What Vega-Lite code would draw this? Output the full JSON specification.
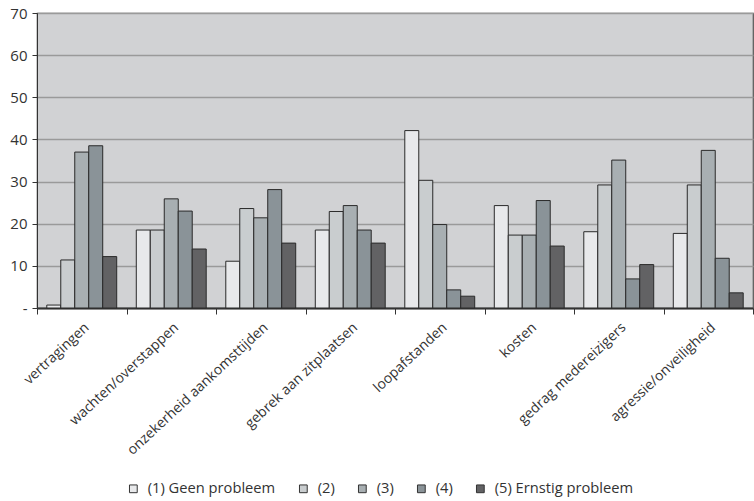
{
  "$schema": "https://vega.github.io/schema/vega-lite/v6.json",
  "width": 716,
  "height": 295,
  "autosize": {"type": "none"},
  "padding": {"left": 37, "top": 13, "right": 1, "bottom": 193},
  "background": "white",
  "config": {
    "view": {"fill": "#d1d2d4", "stroke": "#555555", "strokeWidth": 1.2},
    "font": "Open Sans"
  },
  "data": {
    "values": [
      {"item": "vertragingen", "cat": "(1) Geen probleem", "value": 0.7},
      {"item": "vertragingen", "cat": "(2)", "value": 11.4},
      {"item": "vertragingen", "cat": "(3)", "value": 37.0},
      {"item": "vertragingen", "cat": "(4)", "value": 38.5},
      {"item": "vertragingen", "cat": "(5) Ernstig probleem", "value": 12.2},
      {"item": "wachten/overstappen", "cat": "(1) Geen probleem", "value": 18.5},
      {"item": "wachten/overstappen", "cat": "(2)", "value": 18.5},
      {"item": "wachten/overstappen", "cat": "(3)", "value": 25.9},
      {"item": "wachten/overstappen", "cat": "(4)", "value": 23.0},
      {"item": "wachten/overstappen", "cat": "(5) Ernstig probleem", "value": 14.0},
      {"item": "onzekerheid aankomsttijden", "cat": "(1) Geen probleem", "value": 11.1},
      {"item": "onzekerheid aankomsttijden", "cat": "(2)", "value": 23.6},
      {"item": "onzekerheid aankomsttijden", "cat": "(3)", "value": 21.4},
      {"item": "onzekerheid aankomsttijden", "cat": "(4)", "value": 28.1},
      {"item": "onzekerheid aankomsttijden", "cat": "(5) Ernstig probleem", "value": 15.4},
      {"item": "gebrek aan zitplaatsen", "cat": "(1) Geen probleem", "value": 18.5},
      {"item": "gebrek aan zitplaatsen", "cat": "(2)", "value": 22.9},
      {"item": "gebrek aan zitplaatsen", "cat": "(3)", "value": 24.3},
      {"item": "gebrek aan zitplaatsen", "cat": "(4)", "value": 18.5},
      {"item": "gebrek aan zitplaatsen", "cat": "(5) Ernstig probleem", "value": 15.4},
      {"item": "loopafstanden", "cat": "(1) Geen probleem", "value": 42.1},
      {"item": "loopafstanden", "cat": "(2)", "value": 30.3},
      {"item": "loopafstanden", "cat": "(3)", "value": 19.8},
      {"item": "loopafstanden", "cat": "(4)", "value": 4.3},
      {"item": "loopafstanden", "cat": "(5) Ernstig probleem", "value": 2.8},
      {"item": "kosten", "cat": "(1) Geen probleem", "value": 24.3},
      {"item": "kosten", "cat": "(2)", "value": 17.3},
      {"item": "kosten", "cat": "(3)", "value": 17.3},
      {"item": "kosten", "cat": "(4)", "value": 25.5},
      {"item": "kosten", "cat": "(5) Ernstig probleem", "value": 14.7},
      {"item": "gedrag medereizigers", "cat": "(1) Geen probleem", "value": 18.1},
      {"item": "gedrag medereizigers", "cat": "(2)", "value": 29.2},
      {"item": "gedrag medereizigers", "cat": "(3)", "value": 35.1},
      {"item": "gedrag medereizigers", "cat": "(4)", "value": 6.9},
      {"item": "gedrag medereizigers", "cat": "(5) Ernstig probleem", "value": 10.3},
      {"item": "agressie/onveiligheid", "cat": "(1) Geen probleem", "value": 17.7},
      {"item": "agressie/onveiligheid", "cat": "(2)", "value": 29.2},
      {"item": "agressie/onveiligheid", "cat": "(3)", "value": 37.4},
      {"item": "agressie/onveiligheid", "cat": "(4)", "value": 11.8},
      {"item": "agressie/onveiligheid", "cat": "(5) Ernstig probleem", "value": 3.6}
    ]
  },
  "mark": {"type": "bar", "stroke": "#2a2a2a", "strokeWidth": 1},
  "encoding": {
    "x": {
      "field": "item",
      "type": "nominal",
      "sort": ["vertragingen", "wachten/overstappen", "onzekerheid aankomsttijden", "gebrek aan zitplaatsen", "loopafstanden", "kosten", "gedrag medereizigers", "agressie/onveiligheid"],
      "scale": {"paddingInner": 0, "paddingOuter": 0},
      "axis": {
        "title": null,
        "labelAngle": -43,
        "labelFontSize": 14,
        "labelColor": "#333333",
        "labelLimit": 0,
        "tickBand": "extent",
        "tickSize": 6,
        "tickColor": "#333333",
        "domainColor": "#333333",
        "domainWidth": 2,
        "labelPadding": 6
      }
    },
    "xOffset": {
      "field": "cat",
      "type": "nominal",
      "sort": ["(1) Geen probleem", "(2)", "(3)", "(4)", "(5) Ernstig probleem"],
      "scale": {"paddingInner": 0, "paddingOuter": 0.7}
    },
    "y": {
      "field": "value",
      "type": "quantitative",
      "scale": {"domain": [0, 70]},
      "axis": {
        "title": null,
        "values": [0, 10, 20, 30, 40, 50, 60, 70],
        "labelExpr": "datum.value == 0 ? '-' : datum.label",
        "grid": true,
        "gridColor": "#9a9a9a",
        "gridWidth": 1.5,
        "domainColor": "#333333",
        "labelFontSize": 15,
        "labelColor": "#333333",
        "labelPadding": 5,
        "tickColor": "#333333",
        "tickSize": 5
      }
    },
    "color": {
      "field": "cat",
      "type": "nominal",
      "sort": ["(1) Geen probleem", "(2)", "(3)", "(4)", "(5) Ernstig probleem"],
      "scale": {"range": ["#e8e9eb", "#c9cdcf", "#a8afb2", "#8a9398", "#626264"]},
      "legend": {
        "orient": "none",
        "legendX": 89,
        "legendY": 468,
        "direction": "horizontal",
        "title": null,
        "symbolType": "square",
        "symbolStrokeColor": "#333333",
        "symbolStrokeWidth": 1,
        "symbolSize": 60,
        "labelOffset": 7,
        "labelFontSize": 14.7,
        "labelColor": "#333333",
        "columnPadding": 20
      }
    }
  }
}
